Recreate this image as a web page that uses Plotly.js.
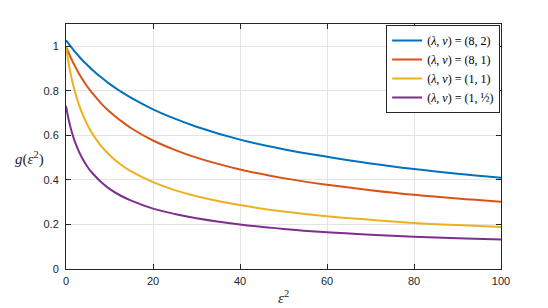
<!DOCTYPE html>
<html>
<head>
<meta charset="utf-8">
<script src="https://cdn.plot.ly/plotly-3.0.1.min.js"></script>
<style>html,body{margin:0;padding:0;background:#fff;}#chart{width:548px;height:308px;}</style>
</head>
<body>
<div id="chart"></div>
<script>
const xVals = [0, 0.5, 1, 1.5, 2, 3, 4, 5, 6, 8, 10, 12.5, 15, 20, 25, 30, 40, 50, 60, 70, 80, 90, 100];
const g82 = [1.027, 1.014, 1.001, 0.989, 0.977, 0.954, 0.933, 0.914, 0.895, 0.862, 0.831, 0.798, 0.768, 0.717, 0.675, 0.639, 0.581, 0.538, 0.504, 0.474, 0.449, 0.428, 0.41];
const g81 = [1.0, 0.976, 0.953, 0.932, 0.913, 0.877, 0.845, 0.816, 0.791, 0.745, 0.707, 0.667, 0.632, 0.577, 0.535, 0.5, 0.447, 0.408, 0.378, 0.354, 0.333, 0.316, 0.302];
const g11 = [1.0, 0.936, 0.883, 0.838, 0.8, 0.736, 0.686, 0.644, 0.61, 0.554, 0.512, 0.47, 0.438, 0.39, 0.354, 0.327, 0.287, 0.258, 0.237, 0.221, 0.207, 0.197, 0.189];
const g1h = [0.732, 0.681, 0.639, 0.604, 0.574, 0.526, 0.488, 0.457, 0.432, 0.392, 0.36, 0.33, 0.307, 0.271, 0.247, 0.228, 0.2, 0.18, 0.165, 0.154, 0.145, 0.138, 0.132];
const seriesNames = ['(<i>λ</i>, <i>ν</i>) = (8, 2)', '(<i>λ</i>, <i>ν</i>) = (8, 1)', '(<i>λ</i>, <i>ν</i>) = (1, 1)', '(<i>λ</i>, <i>ν</i>) = (1, ½)'];
const colors = ['#0072BD', '#D95319', '#EDB120', '#7E2F8E'];
const xTicks = [0, 20, 40, 60, 80, 100];
const yTicks = [0, 0.2, 0.4, 0.6, 0.8, 1];

const SERIF = 'Liberation Serif';
const SANS = 'Liberation Sans';

const ys = [g82, g81, g11, g1h];
const traces = ys.map((y, i) => ({
  x: xVals, y: y, type: 'scatter', mode: 'lines', name: seriesNames[i],
  line: {color: colors[i], width: 2, shape: 'spline', smoothing: 1}
}));

const axisCommon = {
  showline: true, linecolor: '#262626', linewidth: 1, mirror: 'ticks',
  ticks: 'inside', ticklen: 5, tickcolor: '#262626', tickwidth: 1,
  showgrid: true, gridcolor: '#e3e3e3', gridwidth: 1, zeroline: false,
  tickfont: {family: SANS, size: 11, color: '#262626'}
};

const layout = {
  width: 548, height: 308,
  margin: {l: 66, r: 47, t: 24, b: 39},
  paper_bgcolor: '#fff', plot_bgcolor: '#fff',
  showlegend: true,
  legend: {x: 0.998, xanchor: 'right', y: 0.996, yanchor: 'top', bgcolor: '#fff', bordercolor: '#262626', borderwidth: 1,
    font: {family: SERIF, size: 12, color: '#000'}, tracegroupgap: 0, itemwidth: 30},
  xaxis: Object.assign({}, axisCommon, {range: [0, 100], tickvals: xTicks, ticktext: xTicks.map(String), ticklabelstandoff: 2}),
  yaxis: Object.assign({}, axisCommon, {range: [0, 1.1], tickvals: yTicks, ticktext: yTicks.map(String), ticklabelstandoff: 4}),
  annotations: [
    {text: '<i>ε</i><sup>2</sup>', xref: 'paper', yref: 'paper', x: 0.5, y: -0.114, xanchor: 'center', yanchor: 'middle', showarrow: false,
     font: {family: SERIF, size: 15, color: '#262626'}},
    {text: '<i>g</i>(<i>ε</i><sup>2</sup>)', xref: 'paper', yref: 'paper', x: -0.083, y: 0.453, xanchor: 'center', yanchor: 'middle', showarrow: false,
     font: {family: SERIF, size: 15, color: '#262626'}}
  ]
};

Plotly.newPlot('chart', traces, layout, {displayModeBar: false, staticPlot: true});
</script>
</body>
</html>
